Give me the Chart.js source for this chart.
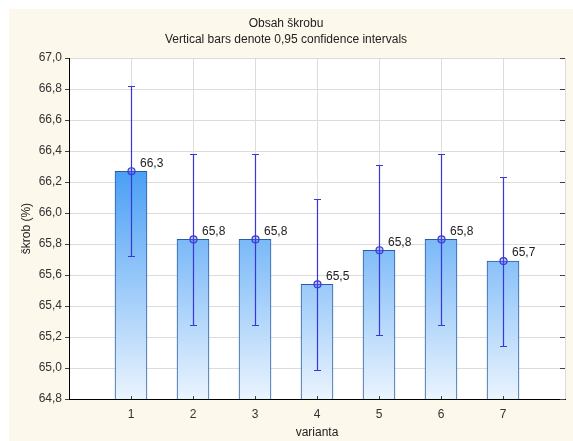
<!DOCTYPE html>
<html>
<head>
<meta charset="utf-8">
<title>Obsah škrobu</title>
<script src="https://cdn.jsdelivr.net/npm/chart.js@4"></script>
<style>
  html, body { margin: 0; padding: 0; background: #ffffff; }
  #wrap { width: 573px; height: 441px; position: relative; }
</style>
</head>
<body>
<div id="wrap"><canvas id="c" width="573" height="441"></canvas></div>
<script>
// Starch content by variant: means with 0.95 confidence intervals
const variants = [1, 2, 3, 4, 5, 6, 7];
const means    = [66.27, 65.83, 65.83, 65.54, 65.76, 65.83, 65.69];
const ciLower  = [65.72, 65.28, 65.28, 64.99, 65.21, 65.28, 65.14];
const ciUpper  = [66.82, 66.38, 66.38, 66.09, 66.31, 66.38, 66.23];
const titleLines = ['Obsah škrobu', 'Vertical bars denote 0,95 confidence intervals'];
const yTitle = 'škrob (%)';
const xTitle = 'varianta';

const FONT = "'Liberation Sans', Arial, sans-serif";
const ERR_COLOR = '#3838d8';
const fmt = v => v.toFixed(1).replace('.', ',');

// Background panel + white plot area + error bars + value labels
const decor = {
  id: 'decor',
  beforeDraw(chart) {
    const { ctx, chartArea: a } = chart;
    ctx.save();
    ctx.fillStyle = '#ffffff';
    ctx.fillRect(0, 0, chart.width, chart.height);
    ctx.fillStyle = '#fdf8ec';
    ctx.fillRect(9, 9, chart.width - 9, chart.height - 9);
    ctx.fillStyle = '#ffffff';
    ctx.fillRect(a.left, a.top, a.right - a.left, a.bottom - a.top);
    ctx.restore();
  },
  afterDatasetsDraw(chart) {
    const { ctx, chartArea: a, scales: { x, y } } = chart;
    ctx.save();
    // inner tick marks on right border and bottom axis
    ctx.strokeStyle = '#444';
    ctx.lineWidth = 1;
    y.ticks.forEach(t => {
      const py = Math.round(y.getPixelForValue(t.value)) + 0.5;
      ctx.beginPath();
      ctx.moveTo(a.right - 5, py);
      ctx.lineTo(a.right, py);
      ctx.stroke();
    });
    variants.forEach(v => {
      const px = Math.round(x.getPixelForValue(v)) + 0.5;
      ctx.beginPath();
      ctx.moveTo(px, a.bottom - 3);
      ctx.lineTo(px, a.bottom);
      ctx.stroke();
    });
    // confidence interval whiskers
    ctx.strokeStyle = ERR_COLOR;
    ctx.lineWidth = 1.2;
    variants.forEach((v, i) => {
      const px = Math.round(x.getPixelForValue(v)) + 0.5;
      const yt = Math.round(y.getPixelForValue(ciUpper[i])) + 0.5;
      const yb = Math.round(y.getPixelForValue(ciLower[i])) + 0.5;
      ctx.beginPath();
      ctx.moveTo(px, yt); ctx.lineTo(px, yb);
      ctx.moveTo(px - 3.5, yt); ctx.lineTo(px + 3.5, yt);
      ctx.moveTo(px - 3.5, yb); ctx.lineTo(px + 3.5, yb);
      ctx.stroke();
      const pm = y.getPixelForValue(means[i]);
      ctx.beginPath();
      ctx.arc(px, pm, 3.5, 0, Math.PI * 2);
      ctx.fillStyle = 'rgba(80,80,235,0.3)';
      ctx.fill();
      ctx.stroke();
      // value label
      ctx.fillStyle = '#222';
      ctx.font = '12px ' + FONT;
      ctx.textAlign = 'left';
      ctx.textBaseline = 'middle';
      ctx.fillText(fmt(means[i]), px + 8.5, pm - 8);
    });
    ctx.restore();
  }
};

const barFill = (context) => {
  const chart = context.chart;
  const a = chart.chartArea;
  if (!a) return '#7cbaf8';
  const g = chart.ctx.createLinearGradient(0, a.top, 0, a.bottom);
  g.addColorStop(0, '#3a96f4');
  g.addColorStop(0.33, '#4a9ff5');
  g.addColorStop(1, '#eaf4fe');
  return g;
};

new Chart(document.getElementById('c'), {
  type: 'bar',
  data: {
    datasets: [{
      data: variants.map((v, i) => ({ x: v, y: means[i] })),
      backgroundColor: barFill,
      borderColor: '#2a5ca6',
      borderWidth: 1,
      borderSkipped: false,
      barThickness: 32
    }]
  },
  options: {
    responsive: false,
    animation: false,
    devicePixelRatio: 1,
    layout: { padding: { left: 0, right: 1, top: 0, bottom: 0 } },
    plugins: {
      legend: { display: false },
      tooltip: { enabled: false },
      title: {
        display: true,
        text: titleLines,
        color: '#222',
        font: { family: FONT, size: 12, weight: 'normal', lineHeight: 1.34 },
        padding: { top: 16, bottom: 10 }
      }
    },
    scales: {
      x: {
        type: 'linear',
        min: 0, max: 8,
        offset: false,
        afterFit: s => { s.height = 42; },
        ticks: {
          stepSize: 1,
          color: '#333',
          font: { family: FONT, size: 12 },
          padding: 8,
          callback: v => (variants.includes(v) ? String(v) : '')
        },
        grid: { color: '#dcdcdc', drawTicks: false, offset: false },
        border: { color: '#000', width: 1 },
        title: {
          display: true, text: xTitle, color: '#222',
          font: { family: FONT, size: 12 },
          padding: { top: 0, bottom: 1 }
        }
      },
      y: {
        min: 64.8, max: 67.0,
        afterFit: s => { s.width = 69; },
        afterBuildTicks: s => {
          const t = [];
          for (let k = 0; k <= 11; k++) t.push({ value: +(64.8 + k * 0.2).toFixed(1) });
          s.ticks = t;
        },
        ticks: {
          color: '#333',
          font: { family: FONT, size: 12 },
          padding: 3,
          callback: v => fmt(v)
        },
        grid: { color: '#dcdcdc', tickColor: '#444', tickLength: 4 },
        border: { color: '#000', width: 1 },
        title: {
          display: true, text: yTitle, color: '#222',
          font: { family: FONT, size: 12 },
          padding: { top: 19, bottom: 0 }
        }
      }
    }
  },
  plugins: [decor]
});
</script>
</body>
</html>
